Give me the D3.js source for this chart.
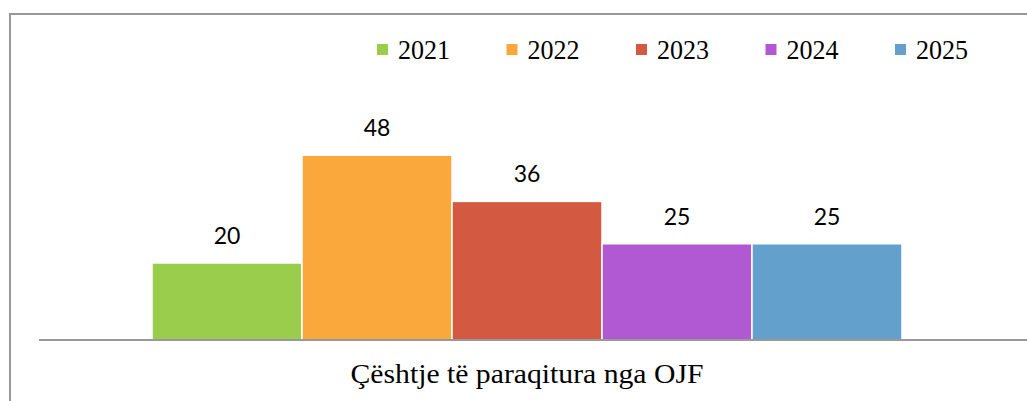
<!DOCTYPE html>
<html>
<head>
<meta charset="utf-8">
<script src="https://cdn.jsdelivr.net/npm/d3@7"></script>
<style>
  body { margin: 0; background: #fff; }
</style>
</head>
<body>
<div class="chart"></div>
<script>
var years = [`2021`, `2022`, `2023`, `2024`, `2025`];
var values = [20, 48, 36, 25, 25];
var colors = [`#9bcd4d`, `#faa83b`, `#d35a41`, `#b158d3`, `#63a0cb`];
var category = `Çështje të paraqitura nga OJF`;

var fullWidth = 1027;
var fullHeight = 401;
var margin = {top: 109, bottom: 61, left: 39, right: 12};
var width = fullWidth - margin.left - margin.right;
var height = fullHeight - margin.top - margin.bottom;

var svg = d3.select(`.chart`)
    .append(`svg`)
    .attr(`width`, fullWidth)
    .attr(`height`, fullHeight)
    .attr(`viewBox`, `0 0 ${fullWidth} ${fullHeight}`);

// chart frame (only left and top edges are visible)
svg.append(`rect`)
    .attr(`x`, 10)
    .attr(`y`, 14)
    .attr(`width`, fullWidth + 20)
    .attr(`height`, fullHeight + 20)
    .style(`fill`, `none`)
    .style(`stroke`, `#999`)
    .style(`stroke-width`, 2);

var g = svg.append(`g`)
    .attr(`transform`, `translate(${margin.left},${margin.top})`);

// one category, years as a grouped set of bars
var x0 = d3.scaleBand()
    .domain([category])
    .range([0, width])
    .paddingInner(0)
    .paddingOuter(0.1507);

var x1 = d3.scaleBand()
    .domain(years)
    .range([0, x0.bandwidth()])
    .padding(0);

var yScale = d3.scaleLinear()
    .domain([0, 60])
    .range([height, 0]);

var data = years.map((y, i) => ({year: y, value: values[i], color: colors[i]}));

var group = g.append(`g`)
    .attr(`transform`, `translate(${x0(category)},0)`);

group.selectAll(`.bar`)
    .data(data)
    .enter()
    .append(`rect`)
    .attr(`class`, `bar`)
    .attr(`x`, d => x1(d.year))
    .attr(`y`, d => yScale(d.value))
    .attr(`width`, x1.bandwidth())
    .attr(`height`, d => height - yScale(d.value))
    .style(`fill`, d => d.color)
    .style(`stroke`, `#fff`)
    .style(`stroke-width`, 1.5);

group.selectAll(`.label`)
    .data(data)
    .enter()
    .append(`text`)
    .attr(`class`, `label`)
    .attr(`x`, d => x1(d.year) + x1.bandwidth() / 2)
    .attr(`y`, d => yScale(d.value) - 19)
    .attr(`text-anchor`, `middle`)
    .style(`font-family`, `Lato, "Open Sans", sans-serif`)
    .style(`font-size`, `23px`)
    .style(`fill`, `#000`)
    .text(d => d.value);

// category axis
var xAxis = g.append(`g`)
    .attr(`transform`, `translate(0,${height})`)
    .call(d3.axisBottom(x0).tickSize(0).tickPadding(23));

xAxis.select(`.domain`)
    .attr(`d`, `M0,0H${width + margin.right + 5}`)
    .style(`stroke`, `#999`)
    .style(`stroke-width`, 2);

xAxis.selectAll(`text`)
    .attr(`dy`, `0.71em`)
    .style(`font-family`, `"Liberation Serif", serif`)
    .style(`font-size`, `28px`)
    .style(`fill`, `#000`)
    .attr(`textLength`, 353)
    .attr(`lengthAdjust`, `spacingAndGlyphs`);

// legend
var legend = svg.append(`g`)
    .attr(`transform`, `translate(377,44)`);

var item = legend.selectAll(`.item`)
    .data(data)
    .enter()
    .append(`g`)
    .attr(`class`, `item`)
    .attr(`transform`, (d, i) => `translate(${i * 129.5},0)`);

item.append(`rect`)
    .attr(`width`, 11)
    .attr(`height`, 11)
    .style(`fill`, d => d.color);

item.append(`text`)
    .attr(`x`, 21)
    .attr(`y`, 15)
    .style(`font-family`, `"Liberation Serif", serif`)
    .style(`font-size`, `28px`)
    .style(`fill`, `#000`)
    .attr(`textLength`, 52)
    .attr(`lengthAdjust`, `spacingAndGlyphs`)
    .text(d => d.year);
</script>
</body>
</html>
